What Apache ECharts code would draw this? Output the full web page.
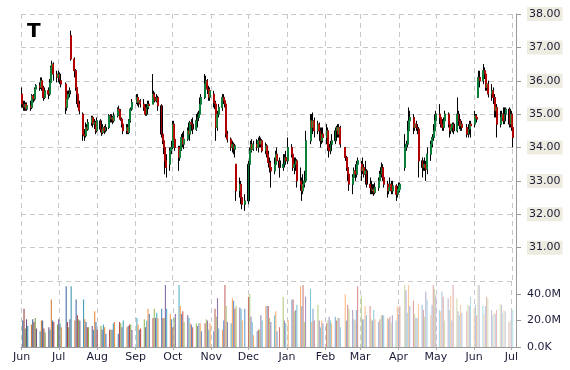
<!DOCTYPE html>
<html><head><meta charset="utf-8">
<script src="https://cdn.jsdelivr.net/npm/echarts@6/dist/echarts.min.js"></script>
<style>html,body{margin:0;padding:0;background:#fff}#c{width:570px;height:370px}</style>
</head><body><div id="c"></div>
<script>
const ticker = 'T';
const firstDay = [2014, 5, 2];
const lastDay = [2015, 6, 2];
const holidays = ['2014-07-04','2014-09-01','2014-11-27','2014-12-25','2015-01-01','2015-01-19','2015-02-16','2015-04-03','2015-05-25'];
const monthNames = ['Jan','Feb','Mar','Apr','May','Jun','Jul','Aug','Sep','Oct','Nov','Dec'];

// [open, close, low, high]
const candles = [
// Jun 2014
[35.6,35.3,35.2,35.8],[35.3,35.2,35.1,35.4],[35.2,35.3,35.1,35.4],[35.3,35.15,35.1,35.35],[35.15,35.25,35.1,35.35],
[35.25,35.2,35.1,35.4],[35.2,35.55,35.15,35.6],[35.55,35.45,35.35,35.6],[35.45,35.75,35.4,35.8],[35.75,35.85,35.65,35.9],
[35.85,35.8,35.7,35.95],[35.8,36.0,35.75,36.1],[36.0,35.8,35.7,36.1],[35.8,35.5,35.4,35.85],[35.5,35.7,35.45,35.8],
[35.7,35.6,35.45,35.8],[35.6,35.95,35.55,36.05],[35.95,36.4,35.9,36.45],[36.4,36.5,36.2,36.6],[36.5,36.2,36.0,36.55],
[36.2,36.1,35.95,36.3],
// Jul
[36.1,36.2,35.95,36.3],[36.2,36.0,35.9,36.25],[36.0,35.9,35.8,36.1],[35.9,35.2,35.0,35.95],[35.2,35.45,35.1,35.5],
[35.45,35.6,35.4,35.7],[35.6,35.7,35.5,35.8],[37.35,36.65,36.6,37.5],[36.65,36.3,36.1,36.7],[36.3,35.8,35.7,36.35],
[35.8,35.6,35.3,35.85],[35.6,35.3,35.2,35.65],[35.3,35.1,35.0,35.4],[35.0,34.4,34.2,35.05],[34.4,34.35,34.2,34.55],
[34.35,34.6,34.3,34.75],[34.6,34.55,34.45,34.7],[34.55,34.75,34.5,34.85],[34.75,34.9,34.65,34.95],[34.9,34.7,34.6,34.95],
[34.7,34.75,34.55,34.85],[34.75,34.5,34.4,34.8],
// Aug
[34.5,34.8,34.45,34.9],[34.8,34.55,34.45,34.85],[34.55,34.45,34.35,34.65],[34.45,34.6,34.4,34.7],[34.6,34.5,34.4,34.65],
[34.5,34.6,34.45,34.7],[34.6,34.95,34.55,35.0],[34.95,34.85,34.75,35.0],[34.85,34.9,34.75,35.0],[34.9,34.8,34.7,34.95],
[34.8,34.95,34.75,35.05],[34.95,35.15,34.9,35.2],[35.15,35.1,35.0,35.25],[35.1,34.85,34.8,35.15],[34.85,34.7,34.6,34.9],
[34.7,34.5,34.4,34.75],[34.5,34.6,34.4,34.7],[34.6,34.45,34.4,34.7],[34.45,34.8,34.4,34.85],[34.8,35.15,34.75,35.2],
[35.15,35.35,35.1,35.45],
// Sep
[35.35,35.5,35.3,35.6],[35.5,35.35,35.25,35.6],[35.35,35.4,35.2,35.5],[35.4,35.3,35.2,35.45],[35.3,35.2,35.1,35.45],
[35.2,35.0,34.95,35.3],[35.0,35.2,34.95,35.3],[35.2,35.3,35.1,35.4],[35.3,35.25,35.15,35.4],[35.3,35.6,35.3,36.2],
[35.6,35.5,35.4,35.7],[35.5,35.4,35.35,35.65],[35.4,35.5,35.35,35.6],[35.5,35.25,35.1,35.55],[35.25,34.4,34.3,35.3],
[34.4,34.2,34.1,34.5],[34.2,34.0,33.8,34.25],[34.0,33.6,33.2,34.1],[33.6,33.4,33.1,33.8],[33.5,33.9,33.3,34.0],
[33.9,34.0,33.8,34.2],
// Oct
[34.0,34.7,33.95,34.8],[34.7,34.25,34.2,34.8],[34.25,34.0,33.9,34.3],[34.0,33.7,33.3,34.05],[33.7,33.95,33.6,34.05],
[33.95,34.3,33.9,34.4],[34.3,34.1,34.0,34.45],[34.1,34.25,33.95,34.5],[34.25,34.5,34.2,34.6],[34.5,34.4,34.3,34.75],
[34.4,34.75,34.2,34.8],[34.75,34.7,34.5,34.85],[34.7,34.55,34.4,34.9],[34.55,34.8,34.5,35.0],[34.8,34.9,34.6,35.05],
[34.9,35.0,34.8,35.1],[35.0,35.3,34.95,35.5],[35.3,35.5,35.1,35.6],[35.5,35.9,35.45,36.2],[35.9,36.0,35.7,36.15],
[36.0,35.75,35.6,36.05],[35.75,35.5,35.4,35.85],[35.5,35.7,35.4,35.8],
// Nov
[35.6,35.35,35.2,35.7],[35.35,35.3,35.15,35.5],[35.3,34.6,34.2,35.4],[34.6,35.0,34.5,35.1],[35.0,35.2,34.9,35.3],
[35.2,35.5,35.1,35.6],[35.5,35.4,35.3,35.6],[35.4,35.3,35.2,35.5],[35.3,34.4,34.3,35.35],[34.4,34.25,34.15,34.5],
[34.25,34.0,33.9,34.3],[34.0,34.1,33.85,34.2],[34.1,33.95,33.8,34.15],[33.95,34.05,33.7,34.1],[33.5,32.7,32.4,33.5],
[32.7,32.9,32.5,33.1],[32.9,32.5,32.3,33.0],[32.5,32.3,32.15,32.6],[32.3,32.4,32.1,32.6],
// Dec
[32.4,33.5,32.3,33.6],[33.5,33.9,33.4,34.0],[33.9,34.1,33.8,34.2],[34.1,33.95,33.85,34.25],[33.95,34.1,33.9,34.2],
[34.1,34.0,33.9,34.25],[34.0,34.2,33.85,34.3],[34.2,34.1,34.0,34.35],[34.1,34.2,34.0,34.3],[34.2,33.9,33.85,34.25],
[33.9,34.05,33.8,34.15],[34.05,33.8,33.7,34.1],[33.8,33.55,33.4,33.9],[33.55,33.4,33.25,33.7],[33.4,33.3,32.8,33.6],
[33.3,33.5,33.2,33.7],[33.5,33.8,33.45,33.9],[33.8,33.6,33.5,34.0],[33.6,33.4,33.1,33.7],[33.4,33.5,33.3,33.8],
[33.5,33.7,33.4,33.8],[33.7,33.6,33.5,33.9],
// Jan 2015
[33.6,34.0,33.5,34.3],[34.0,33.8,33.7,34.1],[33.8,33.4,33.3,33.9],[33.4,33.5,33.2,33.7],[33.5,33.6,33.3,33.7],
[33.6,33.0,32.8,33.65],[33.0,32.9,32.7,33.4],[32.9,32.7,32.4,33.1],[32.7,32.9,32.6,33.2],[32.9,33.0,32.8,33.3],
[33.0,34.2,32.95,34.5],[34.2,34.8,34.1,35.0],[34.8,34.6,34.45,35.0],[34.6,34.8,34.4,35.05],[34.8,34.5,34.3,34.9],
[34.5,34.7,34.4,34.8],[34.7,34.5,34.4,34.75],[34.5,34.2,34.0,34.6],[34.2,34.4,34.1,34.6],[34.4,34.3,34.15,34.6],
// Feb
[34.3,34.5,34.1,34.7],[34.5,34.0,33.9,34.6],[34.0,33.9,33.7,34.1],[33.9,34.1,33.8,34.2],[34.1,34.2,34.0,34.4],
[34.2,34.5,34.1,34.6],[34.5,34.6,34.3,34.65],[34.6,34.4,34.3,34.7],[34.4,34.6,34.3,34.7],[34.6,34.1,34.0,34.65],
[34.0,33.7,33.6,34.0],[33.7,33.4,33.3,33.75],[33.4,33.2,33.0,33.5],[33.2,32.9,32.7,33.3],[32.9,33.1,32.6,33.2],
[33.1,33.3,32.9,33.4],[33.3,33.2,33.0,33.5],[33.2,33.5,33.1,33.6],[33.5,33.6,33.2,33.7],
// Mar
[33.5,33.3,33.0,33.6],[33.3,33.4,33.2,33.7],[33.4,33.2,33.1,33.5],[33.2,33.3,33.1,33.6],[33.3,32.9,32.8,33.35],
[32.9,32.8,32.6,33.1],[32.8,32.7,32.6,33.0],[32.7,32.75,32.6,32.9],[32.75,32.65,32.55,32.9],[32.65,32.8,32.6,32.95],
[32.8,33.0,32.7,33.1],[33.0,33.2,32.9,33.3],[33.2,33.4,33.1,33.55],[33.4,33.1,33.0,33.5],[33.1,32.9,32.8,33.2],
[32.9,32.7,32.5,33.0],[32.7,32.8,32.6,32.9],[32.8,32.9,32.7,33.1],[32.9,32.7,32.6,33.0],[32.7,32.85,32.6,33.0],
[32.85,32.6,32.4,32.9],[32.6,32.75,32.5,32.85],
// Apr
[32.7,32.85,32.6,32.95],[32.75,32.9,32.65,32.95],[33.4,34.0,33.3,34.4],[34.0,34.1,33.9,34.2],[34.1,34.5,34.0,34.8],
[34.5,34.8,34.3,35.2],[34.8,34.9,34.6,35.1],[34.9,34.6,34.4,35.0],[34.6,34.7,34.5,34.85],[34.7,34.6,34.5,34.8],
[34.6,34.55,34.4,34.7],[34.55,33.6,33.1,34.6],[33.6,33.4,33.1,33.7],[33.4,33.5,33.3,33.6],[33.5,33.4,33.3,33.7],
[33.4,33.35,33.0,33.6],[33.35,33.8,33.2,34.0],[33.8,34.1,33.6,34.2],[34.1,34.3,34.0,34.4],[34.3,34.5,34.2,34.7],
[34.5,34.8,34.4,35.0],
// May
[34.8,35.0,34.6,35.1],[35.0,34.9,34.7,35.3],[34.9,34.7,34.6,35.0],[34.7,34.6,34.5,34.85],[34.6,34.8,34.5,34.9],
[34.8,35.0,34.7,35.1],[35.0,34.7,34.6,35.05],[34.7,34.5,34.3,34.75],[34.5,34.6,34.4,34.7],[34.6,34.7,34.45,34.75],
[34.7,34.5,34.4,34.75],[34.5,35.0,34.45,35.5],[35.0,34.8,34.65,35.1],[34.8,34.65,34.55,34.9],[34.65,34.7,34.5,34.85],
[34.7,34.6,34.5,34.8],[34.6,34.4,34.3,34.7],[34.4,34.55,34.3,34.7],[34.55,34.7,34.4,34.8],[34.7,34.65,34.3,34.8],
// Jun
[34.7,34.95,34.6,35.1],[34.95,34.9,34.8,35.0],[34.9,34.85,34.75,35.0],[35.5,36.1,35.5,36.3],[36.1,36.0,35.8,36.3],
[36.0,36.3,35.9,36.5],[36.3,36.2,36.05,36.4],[36.2,35.8,35.7,36.3],[35.8,35.9,35.7,36.1],[35.9,35.6,35.5,36.0],
[35.6,35.7,35.4,35.9],[35.7,35.5,35.3,35.8],[35.5,35.1,34.9,35.6],[35.1,35.2,34.9,35.3],[35.2,34.7,34.3,35.3],
[34.7,34.9,34.6,35.1],[34.9,35.0,34.7,35.1],[35.0,34.8,34.7,35.2],[34.8,35.0,34.7,35.2],[35.0,35.15,34.8,35.2],
[35.15,34.7,34.6,35.2],[34.7,35.0,34.6,35.1],
// Jul
[35.0,34.6,34.5,35.1],[34.6,34.3,34.0,34.7]
];

// volume, millions of shares
const volumes = [
20,29,14,21,16,17,21,19,22,14,12,20,20,14,11,15,13,36,20,19,17,
21,18,15,46,19,15,21,46,20,36,24,21,20,36,21,19,15,15,16,13,27,19,
13,16,13,17,15,10,13,13,13,18,19,10,19,18,15,20,15,16,17,17,13,
22,17,13,14,21,15,20,29,25,22,29,22,26,22,29,22,22,47,29,25,21,
15,22,25,47,31,25,27,19,24,22,18,17,15,18,16,18,18,12,18,21,20,13,18,
12,29,23,37,14,13,20,47,31,19,18,37,35,29,31,30,29,20,29,
38,40,23,19,9,12,13,13,24,20,31,31,31,22,19,24,27,12,15,38,20,18,
20,36,36,27,28,32,46,31,47,19,38,44,19,29,20,32,20,15,20,18,
18,20,23,20,18,23,20,22,22,15,40,20,32,29,28,21,20,28,46,
39,21,21,31,24,31,21,20,28,21,19,21,24,24,24,22,21,23,18,24,20,31,
25,31,47,43,26,47,31,35,25,22,22,33,32,28,23,42,36,24,32,47,44,
39,28,27,42,38,20,37,28,39,20,47,37,27,24,32,26,27,32,31,38,
29,32,24,47,47,31,25,31,38,37,28,24,26,25,28,33,32,26,28,27,19,20,
27,28
];

const volPalette = ['#4F81BD','#C0504D','#9BBB59','#8064A2','#4BACC6','#F79646'];

function pad(n){return n<10?'0'+n:''+n;}
function fmt(d){return d.getFullYear()+'-'+pad(d.getMonth()+1)+'-'+pad(d.getDate());}
const dates = [];
(function(){
  const d = new Date(firstDay[0], firstDay[1], firstDay[2]);
  const end = new Date(lastDay[0], lastDay[1], lastDay[2]);
  while (d <= end) {
    const wd = d.getDay();
    const s = fmt(d);
    if (wd !== 0 && wd !== 6 && holidays.indexOf(s) < 0) dates.push(s);
    d.setDate(d.getDate() + 1);
  }
})();
const n = Math.min(dates.length, candles.length, volumes.length);

function shade(hex, t){
  const r=parseInt(hex.slice(1,3),16), g=parseInt(hex.slice(3,5),16), b=parseInt(hex.slice(5,7),16);
  const f = t < 0 ? (c => Math.round(c*(1+t))) : (c => Math.round(c+(255-c)*t));
  return 'rgb('+f(r)+','+f(g)+','+f(b)+')';
}

const candleData = [];
const bodyData = [];
const volData = [];
for (let i = 0; i < n; i++) {
  const c = candles[i];
  candleData.push([dates[i], c[0], c[1], c[2], c[3]]);
  bodyData.push([dates[i], c[0], c[1], Math.min(c[0], c[1]), Math.max(c[0], c[1])]);
  const t = -0.2 + 0.85 * i / (n - 1);
  volData.push({value: [dates[i], volumes[i]], itemStyle: {color: shade(volPalette[i % volPalette.length], t)}});
}

const axisMin = new Date(2014, 5, 1).getTime();
const axisMax = new Date(2015, 6, 4, 6).getTime();
const DAY = 86400000;
const gridLine = {show: true, lineStyle: {color: '#c8c8c8', type: [5, 4], width: 1}};
const txt = '#1c1c38';
const fontFam = 'DejaVu Sans, Verdana, sans-serif';

const chart = echarts.init(document.getElementById('c'), null, {renderer: 'canvas'});
chart.setOption({
  animation: false,
  backgroundColor: '#fff',
  title: {text: ticker, left: 22, top: 17, textStyle: {fontSize: 20, fontWeight: 'bold', color: '#000', fontFamily: fontFam}},
  grid: [
    {left: 21, right: 54, top: 14, height: 267},
    {left: 21, right: 54, top: 281, height: 66}
  ],
  xAxis: [
    {type: 'time', gridIndex: 0, min: axisMin, max: axisMax, minInterval: 30*DAY, maxInterval: 31*DAY,
     axisLine: {show: false}, axisTick: {show: false}, axisLabel: {show: false}, splitLine: gridLine},
    {type: 'time', gridIndex: 1, min: axisMin, max: axisMax, minInterval: 30*DAY, maxInterval: 31*DAY,
     axisLine: {show: true, lineStyle: {color: '#999'}},
     axisTick: {show: true, length: 5, lineStyle: {color: '#aaa', type: [3, 2]}},
     axisLabel: {show: true, color: txt, fontSize: 11, fontFamily: fontFam, margin: 5,
       formatter: function(v){ return monthNames[new Date(v).getMonth()]; }},
     splitLine: gridLine}
  ],
  yAxis: [
    {type: 'value', gridIndex: 0, position: 'right', min: 30, max: 38, interval: 1,
     axisLine: {show: true, lineStyle: {color: '#999'}},
     axisTick: {show: true, length: 5, lineStyle: {color: '#999'}},
     axisLabel: {showMinLabel: false, color: txt, fontSize: 11, fontFamily: fontFam, margin: 11,
       backgroundColor: '#EEEBE0', padding: [2, 2, 1, 2],
       formatter: function(v){ return v.toFixed(2); }},
     splitLine: gridLine},
    {type: 'value', gridIndex: 1, position: 'right', min: 0, max: 50, interval: 20,
     axisLine: {show: true, lineStyle: {color: '#999'}},
     axisTick: {show: true, length: 5, lineStyle: {color: '#999'}},
     axisLabel: {showMaxLabel: false, color: txt, fontSize: 11, fontFamily: fontFam, margin: 11,
       formatter: function(v){ return v === 0 ? '0.0K' : v.toFixed(1) + 'M'; }},
     splitLine: {show: false}}
  ],
  series: [
    {type: 'candlestick', xAxisIndex: 0, yAxisIndex: 0, data: candleData, barWidth: 1.6,
     encode: {x: 0, y: [1, 2, 3, 4]},
     itemStyle: {color: '#000', color0: '#000', borderColor: '#000', borderColor0: '#000', borderWidth: 1}},
    {type: 'candlestick', xAxisIndex: 0, yAxisIndex: 0, data: bodyData, barWidth: 1.4,
     encode: {x: 0, y: [1, 2, 3, 4]},
     itemStyle: {color: '#0fb553', color0: '#ff0000', borderColor: '#0fb553', borderColor0: '#ff0000', borderWidth: 0.4}},
    {type: 'bar', xAxisIndex: 1, yAxisIndex: 1, data: volData, barWidth: 1.1}
  ]
});
</script></body></html>
